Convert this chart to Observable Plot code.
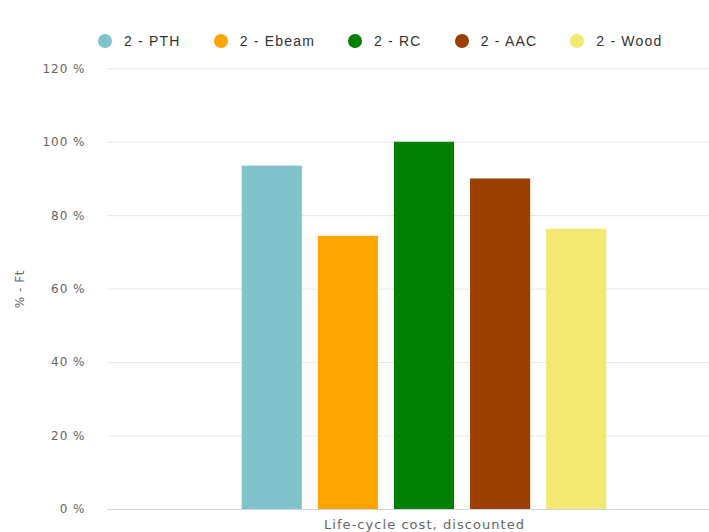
<!DOCTYPE html>
<html>
<head>
<meta charset="utf-8">
<script src="https://cdn.jsdelivr.net/npm/d3@7"></script>
<script src="https://cdn.jsdelivr.net/npm/@observablehq/plot@0.6"></script>
<style>
  html, body { margin: 0; padding: 0; background: #fff; width: 709px; height: 532px; overflow: hidden; }
  #legend {
    height: 50px; box-sizing: border-box; padding: 31px 0 0 98px;
    display: flex; align-items: center; gap: 33px;
    font-family: "Liberation Sans", Arial, sans-serif; font-size: 14px; color: #333;
  }
  #legend .item { display: flex; align-items: center; height: 18px; }
  #legend .dot { width: 14px; height: 14px; border-radius: 50%; margin-right: 12px; }
  #legend .name { letter-spacing: 1.2px; white-space: pre; }
  #chart svg { display: block; overflow: hidden; }
  #chart [aria-label="y-axis tick label"] text { letter-spacing: 1px; }
  #chart [aria-label="y-axis label"] text { letter-spacing: 0.5px; }
  #chart [aria-label="fx-axis tick label"] text { letter-spacing: 1.05px; }
</style>
</head>
<body>
<div id="legend"></div>
<div id="chart"></div>
<script>
// Life-cycle cost comparison of five structural alternatives (% of reference)
const category = "Life-cycle cost, discounted";
const series = ["2 - PTH", "2 - Ebeam", "2 - RC", "2 - AAC", "2 - Wood"];
const values = [93.5, 74.4, 100, 90.0, 76.3];
const colors = ["#80c3cd", "#ffa500", "#008000", "#993f00", "#f3e970"];
const yTicks = [0, 20, 40, 60, 80, 100, 120];
const yLabel = "% - Ft";

const rows = series.map((s, i) => ({ category, series: s, value: values[i] }));

// Legend row with round swatches
const legend = d3.select("#legend");
series.forEach((s, i) => {
  const item = legend.append("div").attr("class", "item");
  item.append("div").attr("class", "dot").style("background", colors[i]);
  item.append("span").attr("class", "name").text(s);
});

const chart = Plot.plot({
  width: 709,
  height: 482,
  marginLeft: 107,
  marginRight: -32,
  marginTop: 18.3,
  marginBottom: 23,
  style: { fontFamily: "DejaVu Sans, sans-serif", fontSize: "12px", color: "#666", background: "#fff" },
  fx: { domain: [category], padding: 0, label: null },
  x: { domain: series, paddingInner: 0.21, paddingOuter: 1.77, round: false, axis: null },
  y: { domain: [0, 120] },
  color: { domain: series, range: colors },
  marks: [
    Plot.gridY(yTicks.filter(d => d > 0), { stroke: "#e6e6e6", strokeOpacity: 1 }),
    Plot.barY(rows, { fx: "category", x: "series", y: "value", fill: "series" }),
    Plot.ruleY([0], { stroke: "#ccd6eb" }),
    Plot.axisY(yTicks, {
      tickSize: 0, tickPadding: 22, tickFormat: d => `${d} %`,
      label: yLabel, labelAnchor: "center", labelOffset: 92, labelArrow: "none", fontSize: 12
    }),
    Plot.axisFx({ anchor: "bottom", tickSize: 0, tickPadding: 10.5, label: null, fontSize: 13 })
  ]
});
document.getElementById("chart").appendChild(chart);
</script>
</body>
</html>
